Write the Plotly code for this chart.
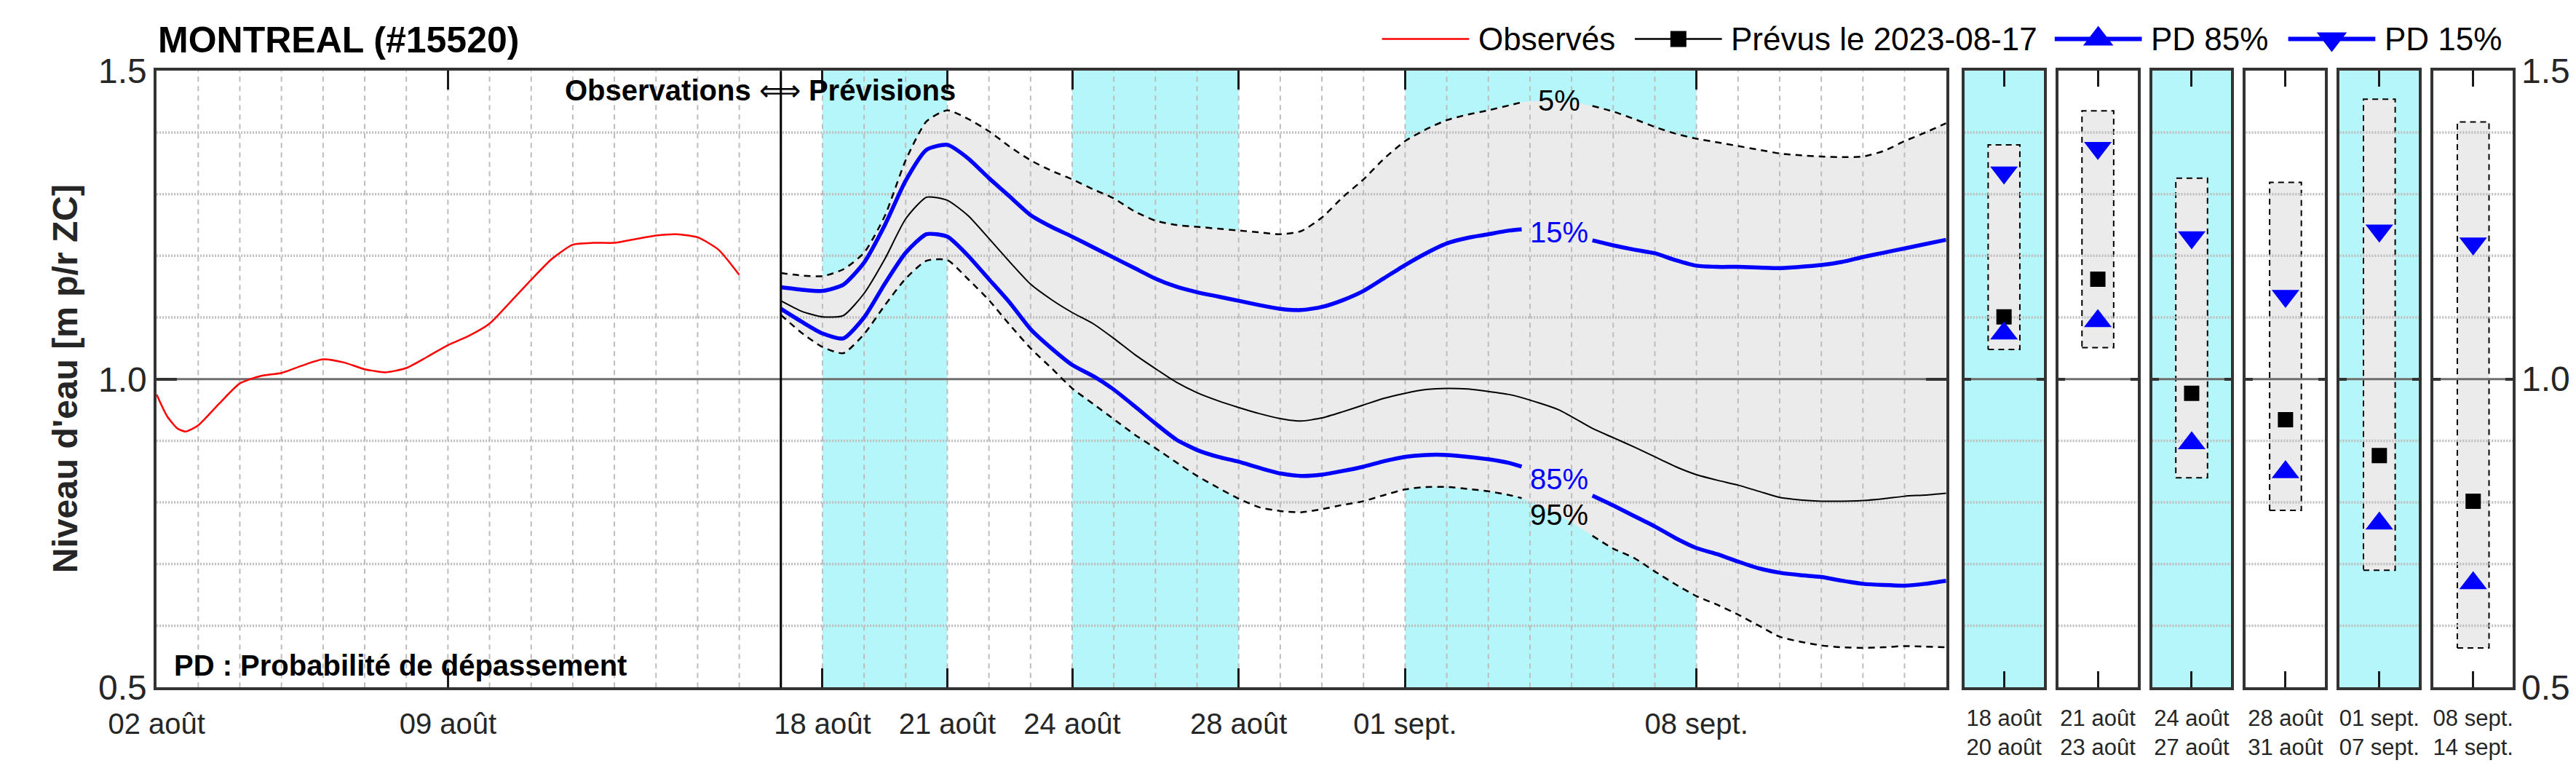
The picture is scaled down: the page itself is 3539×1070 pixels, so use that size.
import numpy as np
import pandas as pd
import plotly.graph_objects as go

W, H = 3539, 1070
FONT = "Liberation Sans, Arial, Helvetica, sans-serif"
CYAN = '#B4F6FA'
FILL = '#EBEBEB'
GRID = '#BDBDBD'
BLUE = '#0000FF'

# observed levels, days after 2023-08-02
obs_start = '2023-08-02'
obs_days = [0, 0.25, 0.5, 0.7, 1.0, 1.5, 2.0, 2.5, 3.0, 3.5, 4.0, 4.5, 5.0, 5.5, 6.0, 6.5,
            7.0, 7.5, 8.0, 8.5, 9.0, 9.5, 10.0, 10.5, 11.0, 11.5, 12.0, 12.5, 13.0, 13.5, 14.0]
obs_level = [0.975, 0.94, 0.92, 0.915, 0.925, 0.96, 0.993, 1.005, 1.010, 1.022, 1.032, 1.027,
             1.016, 1.011, 1.018, 1.036, 1.055, 1.070, 1.090, 1.125, 1.161, 1.195, 1.218, 1.221,
             1.221, 1.227, 1.233, 1.235, 1.230, 1.210, 1.169]

# forecast quantiles, days after 2023-08-17
fc_start = '2023-08-17'
fc_days = [0, 0.5, 1.0, 1.5, 2.0, 2.5, 3.0, 3.5, 4.0, 4.5, 5.0, 5.5, 6.0, 6.5, 7.0, 7.5, 8.0, 8.5,
           9.0, 9.5, 10.0, 10.5, 11.0, 11.5, 12.0, 12.5, 13.0, 13.5, 14.0, 14.5, 15.0, 15.5, 16.0,
           16.5, 17.0, 17.5, 17.8, 18.7, 19.5, 20.0, 20.5, 21.0, 21.5, 22.0, 22.5, 23.0, 23.5,
           24.0, 24.5, 25.0, 25.5, 26.0, 26.5, 27.0, 27.5, 28.0]
fc_q05 = [1.172, 1.168, 1.167, 1.178, 1.205, 1.265, 1.355, 1.418, 1.436, 1.422, 1.402, 1.377,
          1.355, 1.338, 1.324, 1.308, 1.293, 1.272, 1.257, 1.250, 1.247, 1.244, 1.241, 1.238,
          1.235, 1.240, 1.262, 1.295, 1.324, 1.358, 1.386, 1.405, 1.420, 1.429, 1.436, 1.444,
          1.449, 1.452, 1.443, 1.434, 1.422, 1.409, 1.398, 1.390, 1.384, 1.378, 1.372, 1.366,
          1.363, 1.361, 1.360, 1.361, 1.370, 1.386, 1.400, 1.415]
fc_q15 = [1.149, 1.145, 1.143, 1.153, 1.189, 1.250, 1.322, 1.372, 1.380, 1.358, 1.326, 1.296,
          1.266, 1.247, 1.231, 1.214, 1.197, 1.180, 1.163, 1.150, 1.141, 1.134, 1.127, 1.120,
          1.114, 1.112, 1.117, 1.128, 1.143, 1.164, 1.185, 1.204, 1.220, 1.229, 1.235, 1.241,
          1.243, 1.238, 1.225, 1.217, 1.210, 1.204, 1.193, 1.184, 1.182, 1.182, 1.181, 1.180,
          1.182, 1.185, 1.190, 1.198, 1.205, 1.212, 1.219, 1.226]
fc_q50 = [1.127, 1.110, 1.101, 1.103, 1.139, 1.195, 1.260, 1.295, 1.290, 1.265, 1.228, 1.190,
          1.154, 1.129, 1.108, 1.090, 1.066, 1.040, 1.017, 0.995, 0.978, 0.965, 0.954, 0.944,
          0.936, 0.932, 0.937, 0.947, 0.958, 0.969, 0.977, 0.983, 0.985, 0.984, 0.980, 0.975,
          0.970, 0.950, 0.920, 0.905, 0.890, 0.874, 0.858, 0.845, 0.836, 0.828, 0.818, 0.808,
          0.804, 0.802, 0.802, 0.803, 0.806, 0.810, 0.812, 0.815]
fc_q85 = [1.114, 1.093, 1.074, 1.066, 1.100, 1.155, 1.205, 1.235, 1.231, 1.200, 1.162, 1.124,
          1.081, 1.050, 1.023, 1.005, 0.983, 0.956, 0.928, 0.902, 0.885, 0.874, 0.866, 0.856,
          0.847, 0.843, 0.845, 0.851, 0.858, 0.867, 0.874, 0.877, 0.877, 0.874, 0.870, 0.864,
          0.858, 0.838, 0.811, 0.795, 0.778, 0.761, 0.742, 0.726, 0.716, 0.704, 0.693, 0.686,
          0.682, 0.679, 0.673, 0.668, 0.666, 0.665, 0.668, 0.673]
fc_q95 = [1.104, 1.075, 1.052, 1.042, 1.073, 1.120, 1.163, 1.192, 1.193, 1.162, 1.128, 1.088,
          1.050, 1.018, 0.985, 0.960, 0.935, 0.910, 0.888, 0.865, 0.843, 0.824, 0.806, 0.792,
          0.786, 0.784, 0.789, 0.796, 0.802, 0.812, 0.821, 0.825, 0.825, 0.822, 0.818, 0.812,
          0.807, 0.780, 0.746, 0.725, 0.710, 0.688, 0.667, 0.648, 0.634, 0.618, 0.600, 0.582,
          0.574, 0.568, 0.565, 0.564, 0.565, 0.567, 0.566, 0.565]
label_day = 18.7

# period summaries (small panels)
period_labels = ['18 août<br>20 août', '21 août<br>23 août', '24 août<br>27 août',
                 '28 août<br>31 août', '01 sept.<br>07 sept.', '08 sept.<br>14 sept.']
period_q05 = [1.380, 1.435, 1.326, 1.319, 1.454, 1.417]
period_q15 = [1.335, 1.375, 1.230, 1.135, 1.241, 1.220]
period_q50 = [1.101, 1.162, 0.977, 0.934, 0.876, 0.802]
period_q85 = [1.074, 1.094, 0.896, 0.849, 0.766, 0.669]
period_q95 = [1.048, 1.051, 0.840, 0.787, 0.690, 0.564]
period_shaded = [True, False, True, False, True, False]

band_starts = ['2023-08-18', '2023-08-24', '2023-09-01']
band_ends = ['2023-08-21', '2023-08-28', '2023-09-08']

tick_dates = ['2023-08-02', '2023-08-09', '2023-08-18', '2023-08-21', '2023-08-24',
              '2023-08-28', '2023-09-01', '2023-09-08']
tick_text = ['02 août', '09 août', '18 août', '21 août', '24 août', '28 août', '01 sept.', '08 sept.']
y_ticks = [0.5, 1.0, 1.5]
y_text = ['0.5', '1.0', '1.5']
x_start, x_end = '2023-08-02', '2023-09-14'
grid_levels = [0.6, 0.7, 0.8, 0.9, 1.1, 1.2, 1.3, 1.4]

legend_names = ['Observés', 'Prévus le 2023-08-17', 'PD 85%', 'PD 15%']


def px(x):
    return x / W


def py(y):
    return 1 - y / H


def gapped(vals, lo=17.85, hi=19.45):
    # leave room for the inline percentage labels
    return [None if lo < d < hi else v for d, v in zip(fc_days, vals)]


obs_x = pd.Timestamp(obs_start) + pd.to_timedelta(obs_days, unit='D')
fc_x = pd.Timestamp(fc_start) + pd.to_timedelta(fc_days, unit='D')
lab_x = pd.Timestamp(fc_start) + pd.to_timedelta(label_day, unit='D')

fig = go.Figure()
spl = dict(shape='spline', smoothing=0.6)
quiet = dict(showlegend=False, hoverinfo='skip')

# spread between 5% and 95%
fig.add_trace(go.Scatter(x=fc_x, y=fc_q05, mode='lines', line=dict(width=0, **spl), **quiet))
fig.add_trace(go.Scatter(x=fc_x, y=fc_q95, mode='lines', fill='tonexty', fillcolor=FILL,
                         line=dict(width=0, **spl), **quiet))

# grid drawn over the fill
vx, vy = [], []
for d in pd.date_range('2023-08-03', '2023-09-13', freq='D'):
    vx += [d, d, None]
    vy += [0.5, 1.5, None]
fig.add_trace(go.Scatter(x=vx, y=vy, mode='lines', line=dict(color=GRID, width=2, dash='7px,6px'), **quiet))
hx, hy = [], []
for g in grid_levels:
    hx += [x_start, x_end, None]
    hy += [g, g, None]
fig.add_trace(go.Scatter(x=hx, y=hy, mode='lines', line=dict(color=GRID, width=3.5, dash='2px,2px'), **quiet))
fig.add_trace(go.Scatter(x=[x_start, x_end], y=[1.0, 1.0], mode='lines',
                         line=dict(color='#6E6E6E', width=3), **quiet))

fig.add_trace(go.Scatter(x=obs_x, y=obs_level, mode='lines', line=dict(color='#FF0000', width=2.5, **spl), **quiet))
fig.add_trace(go.Scatter(x=fc_x, y=gapped(fc_q05), mode='lines',
                         line=dict(color='black', width=2.5, dash='9px,7px', **spl), **quiet))
fig.add_trace(go.Scatter(x=fc_x, y=gapped(fc_q95), mode='lines',
                         line=dict(color='black', width=2.5, dash='9px,7px', **spl), **quiet))
fig.add_trace(go.Scatter(x=fc_x, y=fc_q50, mode='lines', line=dict(color='black', width=2, **spl), **quiet))
fig.add_trace(go.Scatter(x=fc_x, y=gapped(fc_q15), mode='lines', line=dict(color=BLUE, width=5.5, **spl), **quiet))
fig.add_trace(go.Scatter(x=fc_x, y=gapped(fc_q85), mode='lines', line=dict(color=BLUE, width=5.5, **spl), **quiet))

main_x = [px(151), px(2657)]
main_y = [py(966), py(75)]
frame = dict(showline=True, linecolor='#333333', linewidth=3.5, mirror='ticks',
             ticks='inside', showgrid=False, zeroline=False)

layout = dict(
    width=W, height=H, autosize=False,
    margin=dict(l=0, r=0, t=0, b=0),
    paper_bgcolor='white', plot_bgcolor='rgba(0,0,0,0)',
    font=dict(family=FONT, color='#262626'),
    showlegend=False,
    xaxis=dict(domain=main_x, type='date', range=[x_start, x_end], anchor='y',
               tickvals=tick_dates, ticktext=tick_text, ticklen=26, tickwidth=2.5, tickcolor='#1A1A1A',
               tickfont=dict(size=40), ticklabelstandoff=12, **frame),
    yaxis=dict(domain=main_y, range=[0.5, 1.5], anchor='x', tickvals=y_ticks,
               ticktext=y_text, ticklen=28, tickwidth=4, tickcolor='#333333',
               tickfont=dict(size=48), **frame),
    # overlay in pixel units for the hand-made legend
    xaxis8=dict(domain=[0, 1], range=[0, W], visible=False, anchor='y8', fixedrange=True),
    yaxis8=dict(domain=[0, 1], range=[H, 0], visible=False, anchor='x8', fixedrange=True),
)

shapes = []
for b0, b1 in zip(band_starts, band_ends):
    shapes.append(dict(type='rect', xref='x', yref='y domain', x0=b0, x1=b1, y0=0, y1=1,
                       fillcolor=CYAN, line=dict(width=0), layer='below'))
shapes.append(dict(type='line', xref='x', yref='y domain', x0=fc_start, x1=fc_start, y0=0, y1=1,
                   line=dict(color='black', width=3), layer='above'))

for i in range(6):
    k = i + 2
    xa, ya = f'x{k}', f'y{k}'
    left = 2682.5 + i * 131.4
    layout[f'xaxis{k}'] = dict(domain=[px(left), px(left + 111)], range=[-0.5, 0.5], anchor=ya,
                               tickvals=[0], ticktext=[period_labels[i]], ticklen=22, tickwidth=2.5,
                               tickcolor='#1A1A1A', tickfont=dict(size=31), ticklabelstandoff=12,
                               **frame)
    layout[f'yaxis{k}'] = dict(domain=main_y, range=[0.5, 1.5], anchor=xa, tickvals=y_ticks,
                               ticklen=10, tickwidth=4, tickcolor='#333333', showticklabels=False,
                               **frame)
    if period_shaded[i]:
        shapes.append(dict(type='rect', xref=f'{xa} domain', yref=f'{ya} domain', x0=0, x1=1,
                           y0=0, y1=1, fillcolor=CYAN, line=dict(width=0), layer='below'))
    lo, hi = period_q95[i], period_q05[i]
    fig.add_trace(go.Scatter(x=[-0.2, 0.2, 0.2, -0.2, -0.2], y=[lo, lo, hi, hi, lo], mode='lines',
                             fill='toself', fillcolor=FILL, xaxis=xa, yaxis=ya,
                             line=dict(color='black', width=2, dash='8px,6px'), **quiet))
    gx, gy = [], []
    for g in grid_levels:
        gx += [-0.5, 0.5, None]
        gy += [g, g, None]
    fig.add_trace(go.Scatter(x=gx, y=gy, mode='lines', xaxis=xa, yaxis=ya,
                             line=dict(color=GRID, width=3.5, dash='2px,2px'), **quiet))
    fig.add_trace(go.Scatter(x=[-0.5, 0.5], y=[1.0, 1.0], mode='lines', xaxis=xa, yaxis=ya,
                             line=dict(color='#6E6E6E', width=3), **quiet))
    fig.add_trace(go.Scatter(x=[0], y=[period_q50[i]], mode='markers', xaxis=xa, yaxis=ya,
                             marker=dict(symbol='square', size=21, color='black'), **quiet))
    fig.add_trace(go.Scatter(x=[0], y=[period_q85[i]], mode='markers', xaxis=xa, yaxis=ya,
                             marker=dict(symbol='triangle-up', size=33, color=BLUE), **quiet))
    fig.add_trace(go.Scatter(x=[0], y=[period_q15[i]], mode='markers', xaxis=xa, yaxis=ya,
                             marker=dict(symbol='triangle-down', size=33, color=BLUE), **quiet))

# legend glyphs (pixel overlay)
leg_y = 29
leg_glyphs = [  # line start, line end, marker, line colour, line width
    (1867, 1989, None, '#FF0000', 2.5),
    (2221, 2343, 'square', 'black', 2.5),
    (2809, 2931, 'triangle-up', BLUE, 6),
    (3136, 3258, 'triangle-down', BLUE, 6),
]
leg_text_x = [2000, 2354, 2942, 3269]
for (x0, x1, sym, col, lw) in leg_glyphs:
    fig.add_trace(go.Scatter(x=[x0, x1], y=[leg_y, leg_y], mode='lines', xaxis='x8', yaxis='y8',
                             line=dict(color=col, width=lw), **quiet))
    if sym:
        fig.add_trace(go.Scatter(x=[(x0 + x1) / 2], y=[leg_y], mode='markers', xaxis='x8', yaxis='y8',
                                 marker=dict(symbol=sym, size=22 if sym == 'square' else 36, color=col),
                                 **quiet))

annotations = [
    dict(text='<b>MONTREAL (#15520)</b>', xref='paper', yref='paper', x=px(151), y=py(31),
         xanchor='left', yanchor='middle', showarrow=False, font=dict(size=50, color='black')),
    dict(text="<b>Niveau d'eau [m p/r ZC]</b>", xref='paper', yref='paper', x=px(23),
         y=(main_y[0] + main_y[1]) / 2, textangle=-90, xanchor='center', yanchor='middle',
         showarrow=False, font=dict(size=48, color='#262626')),
    dict(text='<b>Observations</b> ⟺ <b>Prévisions</b>', xref='x', yref='paper', x=fc_start,
         y=py(103), xanchor='center', yanchor='middle', xshift=-28, showarrow=False,
         font=dict(size=40, color='black')),
    dict(text='<b>PD : Probabilité de dépassement</b>', xref='x domain', yref='y domain', x=0,
         y=0, xanchor='left', yanchor='bottom', xshift=22, yshift=6, showarrow=False,
         font=dict(size=40, color='black')),
]
# right-hand level labels next to the last small panel
for v, t in zip(y_ticks, y_text):
    annotations.append(dict(text=t, xref='x7 domain', yref='y7', x=1, y=v, xanchor='left',
                            yanchor='middle', xshift=10, showarrow=False,
                            font=dict(size=48, color='#262626')))
for name, tx in zip(legend_names, leg_text_x):
    annotations.append(dict(text=name, xref='paper', yref='paper', x=px(tx), y=py(leg_y),
                            xanchor='left', yanchor='middle', showarrow=False,
                            font=dict(size=44, color='black')))
for q, lab, col in [(fc_q05, '5%', 'black'), (fc_q15, '15%', BLUE),
                    (fc_q85, '85%', BLUE), (fc_q95, '95%', 'black')]:
    annotations.append(dict(text=lab, xref='x', yref='y', x=lab_x,
                            y=float(np.interp(label_day, fc_days, q)), showarrow=False,
                            xanchor='center', yanchor='middle', font=dict(size=40, color=col)))

layout['shapes'] = shapes
layout['annotations'] = annotations
fig.update_layout(**layout)
# drop the default page margin so the figure sits flush in the window
fig.write_html("out.html", config={'displayModeBar': False},
               post_script="document.body.style.margin='0';document.body.style.overflow='hidden';")
